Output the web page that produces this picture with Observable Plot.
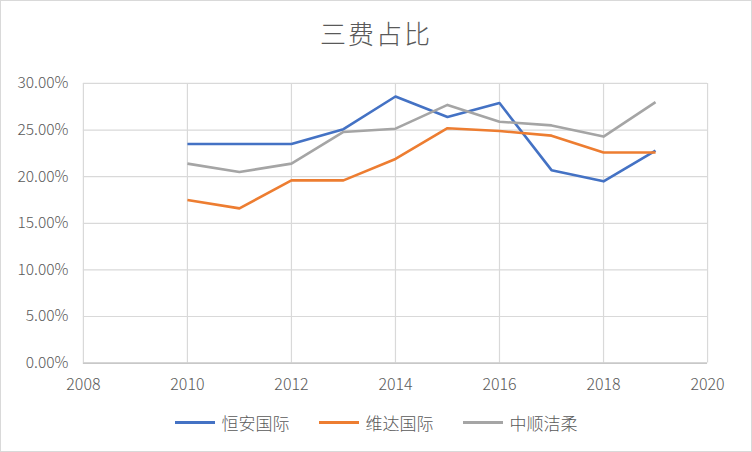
<!DOCTYPE html>
<html><head><meta charset="utf-8">
<script src="https://cdn.jsdelivr.net/npm/d3@7"></script>
<script src="https://cdn.jsdelivr.net/npm/@observablehq/plot@0.6"></script>
<style>
body{margin:0;background:#fff;font-family:"Noto Sans CJK SC","Noto Sans",sans-serif;}
#wrap{position:relative;width:750px;height:450px;border:1px solid #d9d9d9;background:#fff;overflow:hidden;}
#title{position:absolute;top:13px;left:0;width:750px;text-align:center;font-size:26px;font-weight:300;color:#595959;letter-spacing:2px;}
#chart{position:absolute;top:59px;left:-1px;}
#legend{position:absolute;top:409px;left:0;width:750px;display:flex;justify-content:center;gap:29px;font-size:17px;font-weight:300;color:#595959;}
.item{display:flex;align-items:center;gap:7px;}
.sw{width:40px;height:3px;display:inline-block;}
</style></head>
<body><div id="wrap"><div id="title">三费占比</div><div id="chart"></div><div id="legend"></div></div>
<script>
const years = [2010,2011,2012,2013,2014,2015,2016,2017,2018,2019];
const series = ["恒安国际","维达国际","中顺洁柔"];
const hengan = [23.5,23.5,23.5,25.1,28.6,26.4,27.9,20.7,19.5,22.8];
const vinda = [17.5,16.6,19.6,19.6,21.9,25.2,24.9,24.4,22.6,22.6];
const zhongshun = [21.4,20.5,21.4,24.8,25.15,27.7,25.9,25.5,24.3,28.0];
const colors = ["#4472C4","#ED7D31","#A5A5A5"];
const xTicks = [2008,2010,2012,2014,2016,2018,2020];
const yTicks = [0,5,10,15,20,25,30];

const valuesBySeries = [hengan, vinda, zhongshun];
const data = [];
series.forEach((s,i)=>years.forEach((y,j)=>data.push({series:s,year:y,value:valuesBySeries[i][j]})));

const chart = Plot.plot({
  width: 752, height: 340,
  marginLeft: 83, marginRight: 44, marginTop: 23, marginBottom: 37,
  style:{fontFamily:"'Noto Sans CJK SC','Noto Sans',sans-serif", fontSize:"15px", color:"#595959", background:"transparent"},
  x:{domain:[2008,2020], label:null},
  y:{domain:[0,30], label:null},
  color:{domain:series, range:colors},
  marks:[
    Plot.gridX(xTicks,{stroke:"#d9d9d9",strokeOpacity:1,strokeWidth:1.2}),
    Plot.gridY(yTicks,{stroke:"#d9d9d9",strokeOpacity:1,strokeWidth:1.2}),
    Plot.ruleY([0],{stroke:"#bfbfbf",strokeWidth:1.2}),
    Plot.axisX({ticks:xTicks, tickFormat:d=>String(d), tickSize:0, tickPadding:16, fontSize:16, fontWeight:300, label:null}),
    Plot.axisY({ticks:yTicks, tickFormat:d=>d.toFixed(2)+"%", tickSize:0, tickPadding:15, fontSize:15.5, fontWeight:300, label:null}),
    Plot.line(data,{x:"year",y:"value",z:"series",stroke:"series",strokeWidth:2.6,strokeLinejoin:"round",strokeLinecap:"butt"})
  ]
});
document.getElementById("chart").appendChild(chart);

const legend = document.getElementById("legend");
series.forEach((s,i)=>{
  const it=document.createElement("div");it.className="item";
  const sw=document.createElement("span");sw.className="sw";sw.style.background=colors[i];
  const t=document.createElement("span");t.textContent=s;
  it.appendChild(sw);it.appendChild(t);legend.appendChild(it);
});
</script></body></html>
